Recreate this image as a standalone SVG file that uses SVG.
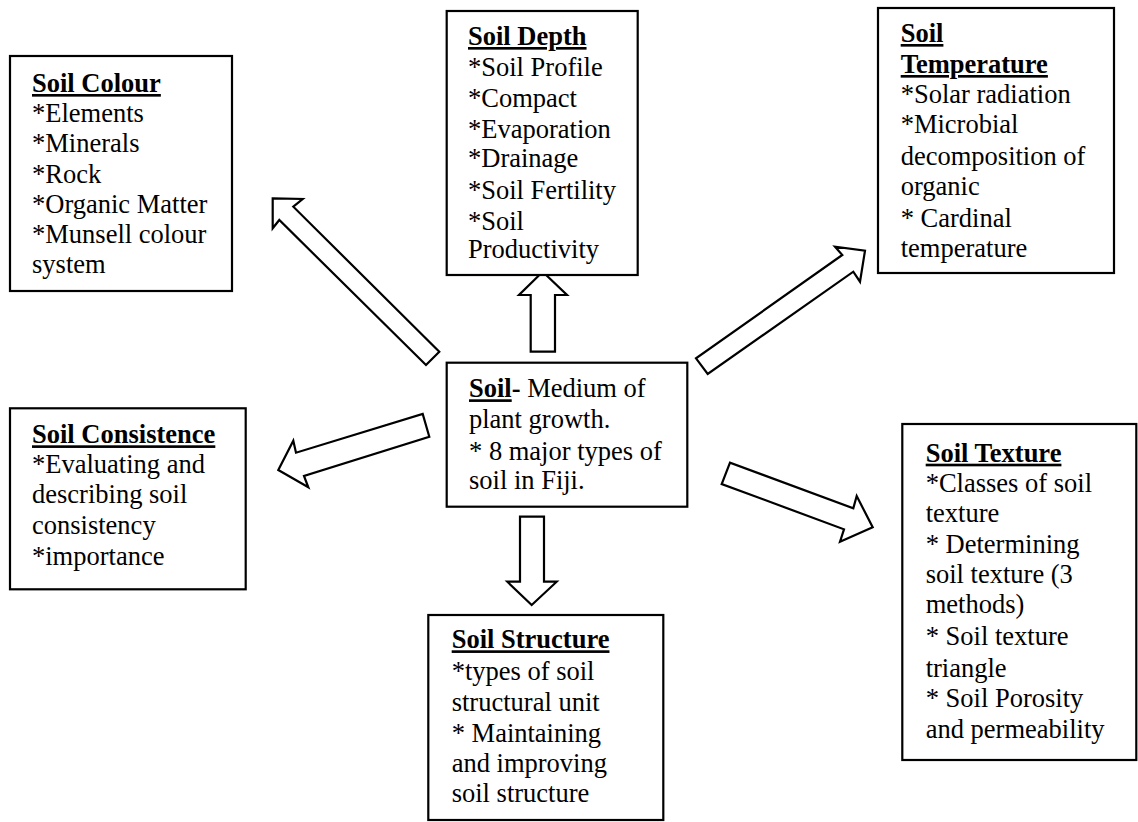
<svg xmlns="http://www.w3.org/2000/svg" width="1138" height="822" viewBox="0 0 1138 822">
<style>
.box{fill:#fff;stroke:#000;stroke-width:2.2}
.arr{fill:#fff;stroke:#000;stroke-width:2.2;stroke-linejoin:miter}
.tx{font-family:'Liberation Serif','Times New Roman',serif;font-size:26.5px;fill:#000}
.t{font-weight:bold;text-decoration:underline}
</style>
<rect width="1138" height="822" fill="#fff"/>
<g id="connectors">
<polygon class="arr" points="272.7,198.3 302.7,199 293.3,206.7 439.3,351.7 426,365 279.3,220 272.7,228.3"/>
<polygon class="arr" points="542.7,271.7 567,295 555,295 555,351.7 530.7,351.7 530.7,295 519,295"/>
<polygon class="arr" points="865,250.7 860,281.7 853.3,271.7 707.7,374 696,358.3 842.3,255 835,246.7"/>
<polygon class="arr" points="278.3,470 293.3,440.7 296,452.7 422.7,414 429.3,436.7 304,476 308.3,487.3"/>
<polygon class="arr" points="531.7,605 556.7,581.7 544,581.7 544,516.7 520,516.7 520,581.7 507.3,581.7"/>
<polygon class="arr" points="872.7,527.3 840,541.7 844,529.3 721.7,484 730,462.7 853.3,508.3 856.7,496"/>
</g>
<g class="tx">
<g id="soil-colour">
<rect class="box" x="10" y="56" width="222" height="235"/>
<text x="32" y="92" class="t">Soil Colour</text>
<text x="32" y="122">*Elements</text>
<text x="32" y="152">*Minerals</text>
<text x="32" y="183">*Rock</text>
<text x="32" y="213">*Organic Matter</text>
<text x="32" y="243">*Munsell colour</text>
<text x="32" y="273">system</text>
</g>
<g id="soil-depth">
<rect class="box" x="446.7" y="11" width="191" height="264"/>
<text x="468" y="45" class="t">Soil Depth</text>
<text x="468" y="76">*Soil Profile</text>
<text x="468" y="107">*Compact</text>
<text x="468" y="138">*Evaporation</text>
<text x="468" y="167">*Drainage</text>
<text x="468" y="199">*Soil Fertility</text>
<text x="468" y="230">*Soil</text>
<text x="468" y="258">Productivity</text>
</g>
<g id="soil-temperature">
<rect class="box" x="878" y="8" width="236" height="265"/>
<text x="900.7" y="42" class="t">Soil</text>
<text x="900.7" y="73" class="t">Temperature</text>
<text x="900.7" y="103">*Solar radiation</text>
<text x="900.7" y="133">*Microbial</text>
<text x="900.7" y="165">decomposition of</text>
<text x="900.7" y="195">organic</text>
<text x="900.7" y="227">* Cardinal</text>
<text x="900.7" y="257">temperature</text>
</g>
<g id="soil-center">
<rect class="box" x="446.7" y="362.7" width="240.6" height="144"/>
<text x="469" y="397.3"><tspan class="t">Soil</tspan><tspan font-weight="bold">-</tspan> Medium of</text>
<text x="469" y="428">plant growth.</text>
<text x="469" y="460">* 8 major types of</text>
<text x="469" y="489">soil in Fiji.</text>
</g>
<g id="soil-consistence">
<rect class="box" x="10" y="408.3" width="235.7" height="181"/>
<text x="32" y="443.3" class="t">Soil Consistence</text>
<text x="32" y="473.3">*Evaluating and</text>
<text x="32" y="503.3">describing soil</text>
<text x="32" y="534">consistency</text>
<text x="32" y="565">*importance</text>
</g>
<g id="soil-structure">
<rect class="box" x="428.3" y="615" width="235" height="205"/>
<text x="451.7" y="648.3" class="t">Soil Structure</text>
<text x="451.7" y="680">*types of soil</text>
<text x="451.7" y="710.7">structural unit</text>
<text x="451.7" y="741.7">* Maintaining</text>
<text x="451.7" y="771.7">and improving</text>
<text x="451.7" y="801.7">soil structure</text>
</g>
<g id="soil-texture">
<rect class="box" x="902.3" y="424" width="234" height="336"/>
<text x="925.7" y="461.7" class="t">Soil Texture</text>
<text x="925.7" y="491.7">*Classes of soil</text>
<text x="925.7" y="521.7">texture</text>
<text x="925.7" y="553.3">* Determining</text>
<text x="925.7" y="583.3">soil texture (3</text>
<text x="925.7" y="613.3">methods)</text>
<text x="925.7" y="645">* Soil texture</text>
<text x="925.7" y="676.7">triangle</text>
<text x="925.7" y="706.7">* Soil Porosity</text>
<text x="925.7" y="738.3">and permeability</text>
</g>
</g>
</svg>
